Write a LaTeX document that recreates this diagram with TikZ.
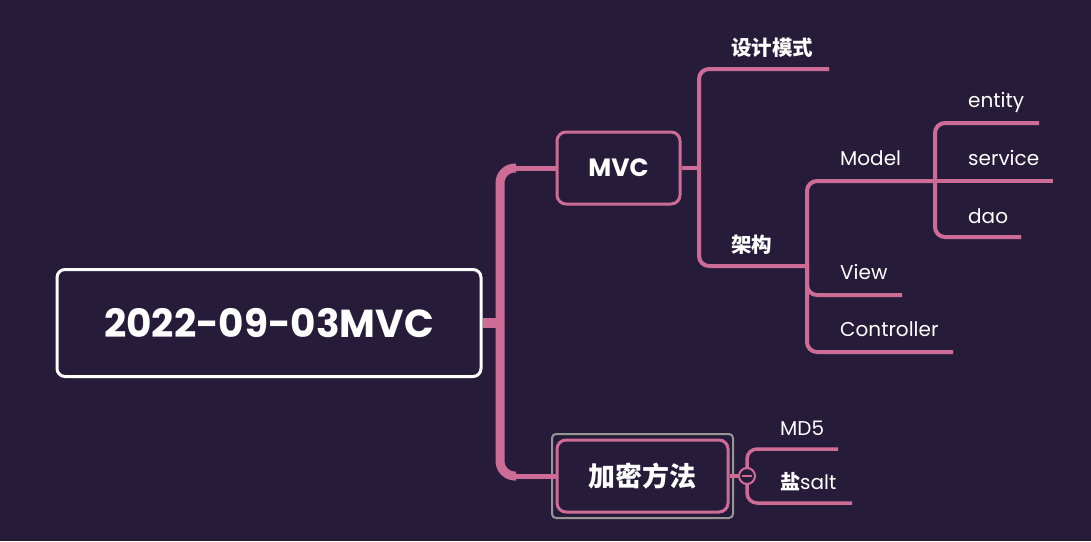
\documentclass[tikz,border=0pt]{standalone}
\usepackage{fontspec}
\setmainfont{Poppins}
\newfontfamily\cjk{Noto Sans CJK SC}
\definecolor{bgdark}{RGB}{38,28,58}
\definecolor{rose}{RGB}{205,108,150}
\definecolor{selgrey}{RGB}{150,150,150}

\begin{document}
\begin{tikzpicture}[
    x=1pt, y=-1pt,
    topic/.style={draw=rose, line width=3, rounded corners=9, fill=bgdark, text=white,
      inner sep=0, minimum height=72},
    branch/.style={draw=rose, line width=4, rounded corners=10},
    leaf/.style={text=white, anchor=west, inner sep=0, font=\fontsize{20}{24}\selectfont},
    cjkleaf/.style={leaf, font=\cjk\bfseries\fontsize{20.5}{24}\selectfont}
  ]
  % canvas
  \useasboundingbox (0,0) rectangle (1091,541);
  \fill [bgdark] (0,0) rectangle (1091,541);

  % central topic
  \node [draw=white, line width=3, rounded corners=8, fill=bgdark, text=white,
    minimum width=424, minimum height=107,
    font=\bfseries\fontsize{39}{46}\selectfont] (root) at (269,323) {2022-09-03MVC};

  % main topics
  \node [draw=selgrey, line width=2, rounded corners=4, minimum width=181, minimum height=84] (sel) at (642.5,476) {};
  \node [topic, minimum width=123, font=\bfseries\fontsize{25}{30}\selectfont] (mvc) at (618.5,168) {MVC};
  \node [topic, minimum width=171, font=\cjk\bfseries\fontsize{27}{32}\selectfont] (enc) at (642.5,476) {加密方法};

  % trunk
  \coordinate (trunk) at (500,323);
  \draw [rose, line width=10] (root.east) -- (trunk);
  \draw [rose, line width=9, rounded corners=15] (516,168) -| (trunk) |- (516,476);
  \draw [rose, line width=5] (mvc.west) -- (512,168);
  \draw [rose, line width=5] (enc.west) -- (512,476);

  % MVC subtree
  \coordinate (mvc-fork) at (699,168);
  \coordinate (sheji-end) at (829,69);
  \coordinate (jiagou-fork) at (807,266);
  \draw [branch] (mvc.east) -- (mvc-fork);
  \draw [branch] (mvc-fork) |- (sheji-end);
  \draw [branch] (mvc-fork) |- (jiagou-fork);
  \node [cjkleaf] (sheji) at (731,48) {设计模式};
  \node [cjkleaf] (jiagou) at (731,245) {架构};

  % 架构 subtree
  \coordinate (model-fork) at (935,181);
  \coordinate (view-end) at (902,295);
  \coordinate (ctrl-end) at (953,352);
  \draw [branch] (jiagou-fork) |- (model-fork);
  \draw [branch] (jiagou-fork) |- (view-end);
  \draw [branch] (jiagou-fork) |- (ctrl-end);
  \node [leaf] (model) at (840,158) {Model};
  \node [leaf] (view) at (840,272) {View};
  \node [leaf] (ctrl) at (840,329) {Controller};

  % Model subtree
  \coordinate (entity-end) at (1039,123);
  \coordinate (service-end) at (1053,181);
  \coordinate (dao-end) at (1021,237);
  \draw [branch] (model-fork) |- (entity-end);
  \draw [branch] (model-fork) -- (service-end);
  \draw [branch] (model-fork) |- (dao-end);
  \node [leaf] (entity) at (968,102) {entity};
  \node [leaf] (service) at (968,158) {service};
  \node [leaf] (dao) at (968,216) {dao};

  % encryption subtree
  \coordinate (enc-fork) at (747,476);
  \coordinate (md5-end) at (838,449);
  \coordinate (salt-end) at (852,503);
  \draw [branch, line width=3.5] (enc.east) -- (enc-fork);
  \draw [branch, line width=3.5] (enc-fork) |- (md5-end);
  \draw [branch, line width=3.5] (enc-fork) |- (salt-end);
  \node [circle, draw=rose, line width=2, fill=bgdark, minimum size=16, inner sep=0] (fold) at (enc-fork) {};
  \draw [rose, line width=1.5] ([xshift=-5]fold.center) -- ([xshift=5]fold.center);
  \node [leaf] (md5) at (780,428) {MD5};
  \node [leaf] (salt) at (780,482) {{\cjk\bfseries 盐}salt};
\end{tikzpicture}
\end{document}
